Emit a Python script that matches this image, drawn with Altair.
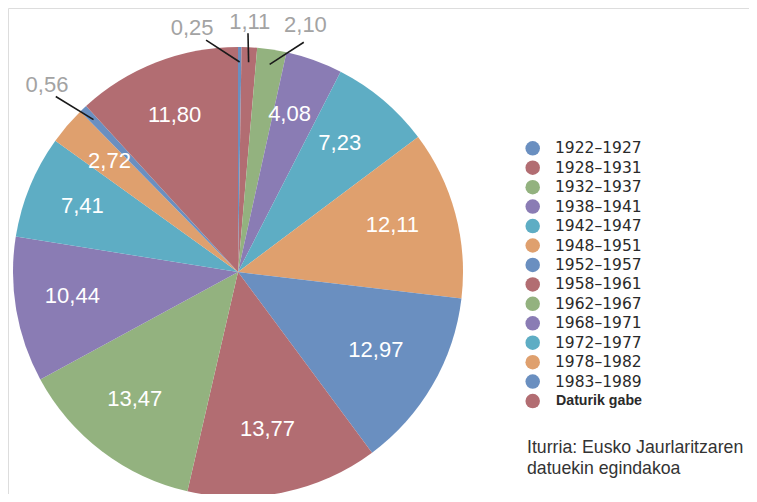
import altair as alt
import pandas as pd

periods = ["1922–1927", "1928–1931", "1932–1937", "1938–1941", "1942–1947",
           "1948–1951", "1952–1957", "1958–1961", "1962–1967", "1968–1971",
           "1972–1977", "1978–1982", "1983–1989", "Daturik gabe"]
values = [0.25, 1.11, 2.10, 4.08, 7.23, 12.11, 12.97, 13.77, 13.47, 10.44,
          7.41, 2.72, 0.56, 11.80]
colors = ["#6a8fc0", "#b26d72", "#93b27f", "#8a7cb4", "#5eadc4", "#dfa06e",
          "#6a8fc0", "#b26d72", "#93b27f", "#8a7cb4", "#5eadc4", "#dfa06e",
          "#6a8fc0", "#b26d72"]
source_lines = ["Iturria: Eusko Jaurlaritzaren", "datuekin egindakoa"]

df = pd.DataFrame({"period": periods, "value": values,
                   "idx": list(range(len(periods)))})

W, H = 741, 486
CX, CY, R = 230, 264, 225
R_IN_LABEL = 164

base = (
    alt.Chart(df)
    .transform_joinaggregate(total="sum(value)")
    .transform_window(cum="sum(value)", sort=[alt.SortField("idx")], frame=[None, 0])
    .transform_calculate(
        mid="(datum.cum - datum.value / 2) / datum.total * 2 * PI",
        lab="replace(format(datum.value, '.2f'), '.', ',')",
    )
)

pie = alt.Chart(df).mark_arc(outerRadius=R).encode(
    theta=alt.Theta("value:Q", stack=True),
    order=alt.Order("idx:Q"),
    color=alt.Color("period:N", scale=alt.Scale(domain=periods, range=colors), legend=None),
    x=alt.value(CX),
    y=alt.value(CY),
)

inner = base.transform_filter("datum.value > 2.5").transform_calculate(
    px=f"{CX} + {R_IN_LABEL} * sin(datum.mid)",
    py=f"{CY} - {R_IN_LABEL} * cos(datum.mid)",
).mark_text(color="white", fontSize=22, font="Liberation Sans", baseline="middle",
            dx=-4, dy=-4).encode(
    x=alt.X("px:Q", scale=None, axis=None),
    y=alt.Y("py:Q", scale=None, axis=None),
    text="lab:N",
)

# outer labels: (period, label angle offset deg, label radius, line-end angle offset deg, line-end radius)
outer_layout = [
    ("1922–1927", -11.1, 248, -8.3, 234),
    ("1928–1931", -0.2, 250, -0.5, 239),
    ("1932–1937", 6.6, 256, 7.3, 239),
    ("1983–1989", -2.2, 267, -2.6, 253),
]
R_LINE_IN = 210

outer_layers = []
for p, la, lr, ea, er in outer_layout:
    sub = base.transform_filter(alt.datum.period == p).transform_calculate(
        lx=f"{CX} + {lr} * sin(datum.mid + {la} * PI / 180)",
        ly=f"{CY} - {lr} * cos(datum.mid + {la} * PI / 180)",
        ex=f"{CX} + {er} * sin(datum.mid + {ea} * PI / 180)",
        ey=f"{CY} - {er} * cos(datum.mid + {ea} * PI / 180)",
        ix=f"{CX} + {R_LINE_IN} * sin(datum.mid)",
        iy=f"{CY} - {R_LINE_IN} * cos(datum.mid)",
    )
    line = sub.mark_rule(color="#1a1a1a", strokeWidth=1.6).encode(
        x=alt.X("ix:Q", scale=None, axis=None),
        y=alt.Y("iy:Q", scale=None, axis=None),
        x2="ex:Q",
        y2="ey:Q",
    )
    txt = sub.mark_text(color="#a3a3a3", fontSize=22, font="Liberation Sans", baseline="middle").encode(
        x=alt.X("lx:Q", scale=None, axis=None),
        y=alt.Y("ly:Q", scale=None, axis=None),
        text="lab:N",
    )
    outer_layers += [line, txt]

# custom legend
LEG_X, LEG_Y0, LEG_DY = 524.7, 140.3, 19.44
leg = alt.Chart(df).transform_calculate(ry=f"{LEG_Y0} + datum.idx * {LEG_DY}")
leg_sym = leg.mark_circle(size=210, opacity=1).encode(
    x=alt.value(LEG_X),
    y=alt.Y("ry:Q", scale=None, axis=None),
    color=alt.Color("period:N", scale=alt.Scale(domain=periods, range=colors), legend=None),
)
leg_years = leg.transform_filter("datum.period != 'Daturik gabe'").mark_text(
    align="left", baseline="middle", font="DejaVu Sans", fontSize=15.5, color="#2a2a2a"
).encode(
    x=alt.value(547),
    y=alt.Y("ry:Q", scale=None, axis=None),
    text="period:N",
)
leg_other = leg.transform_filter("datum.period == 'Daturik gabe'").mark_text(
    align="left", baseline="middle", font="Liberation Sans", fontSize=14.2,
    fontWeight="bold", color="#2a2a2a"
).encode(
    x=alt.value(548),
    y=alt.Y("ry:Q", scale=None, axis=None),
    text="period:N",
)

src = alt.Chart(pd.DataFrame({"t": [0]})).mark_text(
    align="left", baseline="alphabetic", font="Liberation Sans", fontSize=17.7,
    lineHeight=20.5, color="#333333"
).encode(
    x=alt.value(519),
    y=alt.value(445),
    text=alt.value(source_lines),
)

chart = alt.layer(pie, inner, *outer_layers, leg_sym, leg_years, leg_other, src).properties(
    width=W, height=H, padding=0, autosize="none"
).configure_view(stroke=None).configure(background="white")

chart.save("out.html", embed_options={"renderer": "svg", "actions": False})
